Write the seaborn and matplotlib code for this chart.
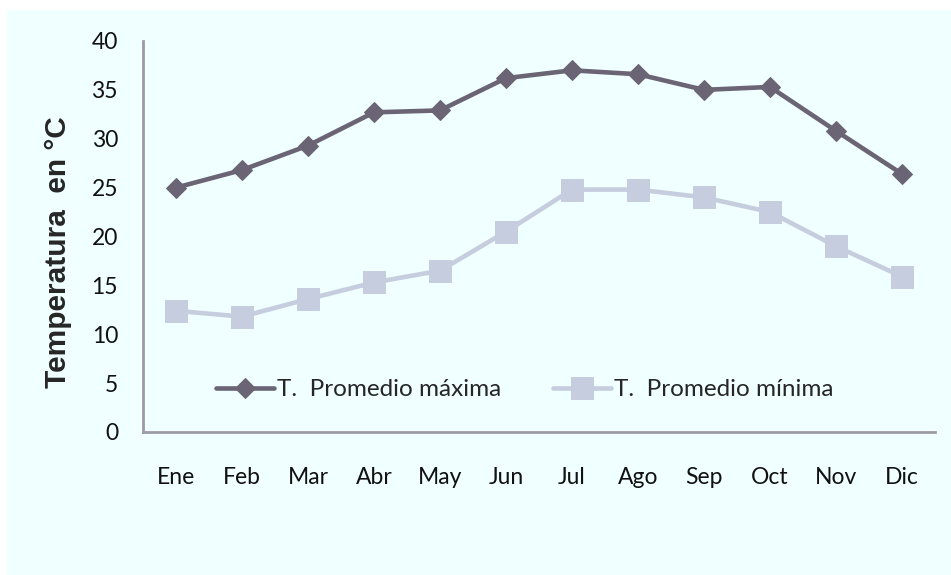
import pandas as pd
import numpy as np

import matplotlib.pyplot as plt
import seaborn as sns
from matplotlib.patches import Rectangle

# DATA
months = ["Ene", "Feb", "Mar", "Abr", "May", "Jun",
          "Jul", "Ago", "Sep", "Oct", "Nov", "Dic"]
t_max = [25.0, 26.8, 29.3, 32.7, 32.9, 36.2, 37.0, 36.6, 35.0, 35.3, 30.8, 26.4]
t_min = [12.4, 11.8, 13.6, 15.3, 16.5, 20.5, 24.8, 24.8, 24.0, 22.5, 19.0, 15.9]
yticks = [0, 5, 10, 15, 20, 25, 30, 35, 40]

df = pd.DataFrame({"mes": months, "max": t_max, "min": t_min})

BG = "#F0FFFF"
DARK = "#6A6475"
LIGHT = "#C5CDDF"

sns.set_style("white")
plt.rcParams["font.family"] = ["Lato", "DejaVu Sans"]

fig = plt.figure(figsize=(9.51, 5.75), dpi=100)
fig.patch.set_facecolor("white")
fig.patches.append(Rectangle((7 / 951, 0), 1, 565 / 575, transform=fig.transFigure,
                             facecolor=BG, edgecolor="none", zorder=-10))

ax = fig.add_axes([143 / 951, 143 / 575, 792 / 951, 391 / 575])
ax.set_facecolor(BG)

sns.lineplot(data=df, x="mes", y="max", ax=ax, color=DARK, linewidth=3.3,
             marker="D", markersize=10.5, markeredgecolor=DARK,
             label="T.  Promedio máxima")
sns.lineplot(data=df, x="mes", y="min", ax=ax, color=LIGHT, linewidth=3.3,
             marker="s", markersize=15.5, markeredgecolor=LIGHT,
             label="T.  Promedio mínima")

ax.set_xlim(-0.5, 11.5)
ax.set_ylim(0, 40)
ax.set_yticks(yticks)

for s in ["top", "right"]:
    ax.spines[s].set_visible(False)
for s in ["left", "bottom"]:
    ax.spines[s].set_color("#9B9BA7")
    ax.spines[s].set_linewidth(2)

ax.tick_params(axis="y", length=0, pad=18, labelsize=16.5, labelcolor="#111111")
ax.tick_params(axis="x", length=0, pad=25, labelsize=16.5, labelcolor="#111111")

ax.set_xlabel("")
ax.set_ylabel("Temperatura  en °C", fontsize=21.5, fontweight="bold",
              family="Liberation Sans")
ax.yaxis.set_label_coords(-0.09, 0.46)

ax.legend(loc="center", bbox_to_anchor=(0.482, 0.108), ncol=2, frameon=False,
          fontsize=17.5, handlelength=2.4, handletextpad=0.12, columnspacing=2.1)

plt.savefig("out.png", dpi=100)
plt.close()
